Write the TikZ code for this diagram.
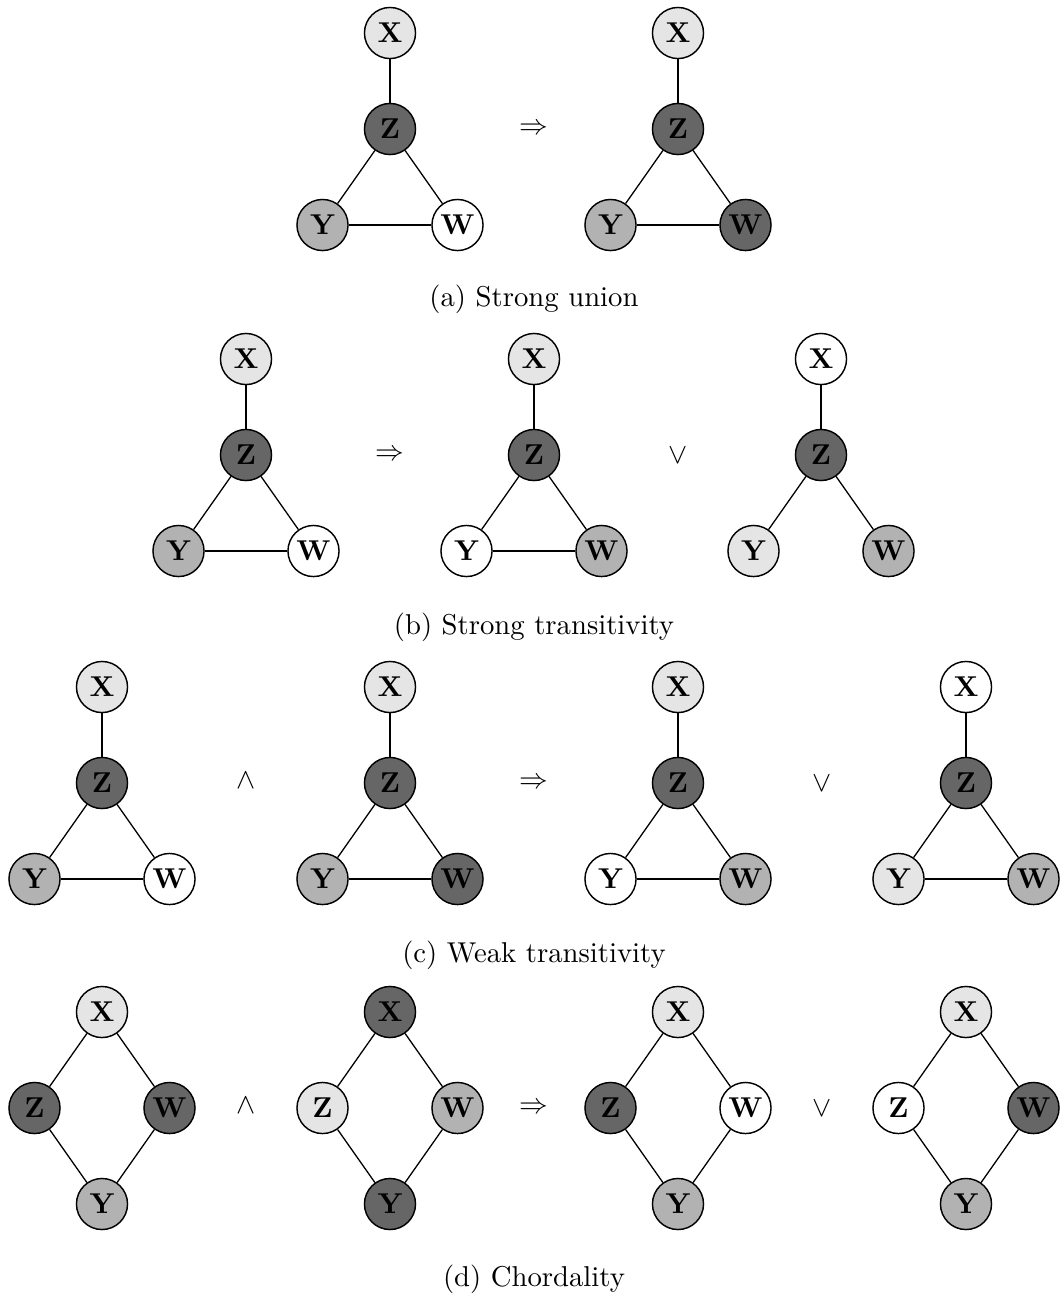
\documentclass[tikz,border=0pt]{standalone}
\usepackage{tikz}

\definecolor{shadeL}{gray}{0.90}
\definecolor{shadeM}{gray}{0.70}
\definecolor{shadeD}{gray}{0.40}

\tikzset{
  vtx/.style={circle, draw=black, line width=0.5pt, minimum size=17.8pt, inner sep=0pt, font=\bfseries},
  edge/.style={draw=black, line width=0.45pt},
  opsym/.style={inner sep=0pt},
  captext/.style={inner sep=0pt}
}

% Triangle graph: #1 prefix, #2 x of column, #3 y of X, #4..#7 fills of X, Z, Y, W
\newcommand{\trigraph}[7]{%
  \node[vtx, fill=#4] (#1x) at (#2, #3) {X};
  \node[vtx, fill=#5] (#1z) at (#2, #3+96) {Z};
  \node[vtx, fill=#6] (#1y) at (#2-67.5, #3+192) {Y};
  \node[vtx, fill=#7] (#1w) at (#2+67.5, #3+192) {W};
  \draw[edge] (#1x) -- (#1z);
  \draw[edge] (#1z) -- (#1y);
  \draw[edge] (#1z) -- (#1w);
}

% Diamond graph: #1 prefix, #2 x of column, #3 y of X, #4..#7 fills of X, Z, W, Y
\newcommand{\diagraph}[7]{%
  \node[vtx, fill=#4] (#1x) at (#2, #3) {X};
  \node[vtx, fill=#5] (#1z) at (#2-67.5, #3+96) {Z};
  \node[vtx, fill=#6] (#1w) at (#2+67.5, #3+96) {W};
  \node[vtx, fill=#7] (#1y) at (#2, #3+192) {Y};
  \draw[edge] (#1x) -- (#1z);
  \draw[edge] (#1x) -- (#1w);
  \draw[edge] (#1z) -- (#1y);
  \draw[edge] (#1w) -- (#1y);
}

\begin{document}
\begin{tikzpicture}[x=0.3484pt, y=-0.3484pt]
\useasboundingbox (0,0) rectangle (1060,1299);

% (a) Strong union
\trigraph{a1}{390}{33}{shadeL}{shadeD}{shadeM}{white}
\draw[edge] (a1y) -- (a1w);
\node[opsym] (aop1) at (534,129) {$\Rightarrow$};
\trigraph{a2}{678}{33}{shadeL}{shadeD}{shadeM}{shadeD}
\draw[edge] (a2y) -- (a2w);
\node[captext] (capa) at (534,299) {(a) Strong union};

% (b) Strong transitivity
\trigraph{b1}{246}{359}{shadeL}{shadeD}{shadeM}{white}
\draw[edge] (b1y) -- (b1w);
\node[opsym] (bop1) at (390,455) {$\Rightarrow$};
\trigraph{b2}{534}{359}{shadeL}{shadeD}{white}{shadeM}
\draw[edge] (b2y) -- (b2w);
\node[opsym] (bop2) at (678,456) {$\vee$};
\trigraph{b3}{821}{359}{white}{shadeD}{shadeL}{shadeM}
\node[captext] (capb) at (534,627) {(b) Strong transitivity};

% (c) Weak transitivity
\trigraph{c1}{102}{687}{shadeL}{shadeD}{shadeM}{white}
\draw[edge] (c1y) -- (c1w);
\node[opsym] (cop1) at (246,781) {$\wedge$};
\trigraph{c2}{390}{687}{shadeL}{shadeD}{shadeM}{shadeD}
\draw[edge] (c2y) -- (c2w);
\node[opsym] (cop2) at (534,783) {$\Rightarrow$};
\trigraph{c3}{678}{687}{shadeL}{shadeD}{white}{shadeM}
\draw[edge] (c3y) -- (c3w);
\node[opsym] (cop3) at (822,784) {$\vee$};
\trigraph{c4}{966}{687}{white}{shadeD}{shadeL}{shadeM}
\draw[edge] (c4y) -- (c4w);
\node[captext] (capc) at (534,955) {(c) Weak transitivity};

% (d) Chordality
\diagraph{d1}{102}{1012}{shadeL}{shadeD}{shadeD}{shadeM}
\node[opsym] (dop1) at (246,1106) {$\wedge$};
\diagraph{d2}{390}{1012}{shadeD}{shadeL}{shadeM}{shadeD}
\node[opsym] (dop2) at (534,1108) {$\Rightarrow$};
\diagraph{d3}{678}{1012}{shadeL}{shadeD}{white}{shadeM}
\node[opsym] (dop3) at (822,1109) {$\vee$};
\diagraph{d4}{966}{1012}{shadeL}{white}{shadeD}{shadeM}
\node[captext] (capd) at (534,1279) {(d) Chordality};

\end{tikzpicture}
\end{document}
